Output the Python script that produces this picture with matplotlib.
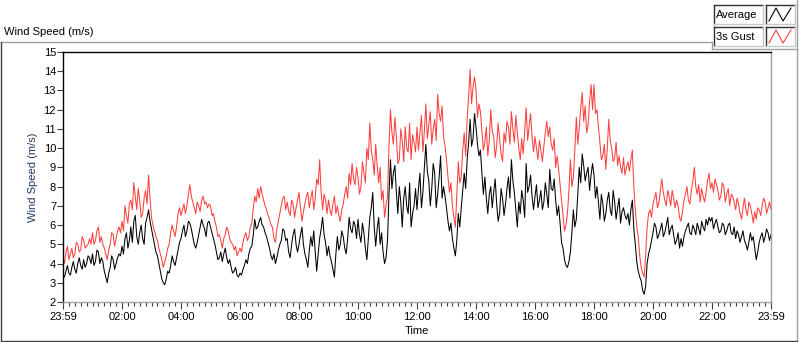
import matplotlib.pyplot as plt
from matplotlib.lines import Line2D
from matplotlib.patches import Rectangle
import numpy as np

plt.rcParams['font.family'] = ['Liberation Sans', 'DejaVu Sans']
plt.rcParams['font.size'] = 8

# Wind speed readings every 3 minutes, from 23:59 to 23:59 (m/s), one row per hour
average = [
    3.4, 3.3, 3.6, 3.9, 3.5, 3.4, 3.8, 4.1, 3.7, 3.5, 4.0, 4.3, 3.9, 3.7, 4.2, 3.8, 4.0, 4.4, 4.3, 4.0,
    4.5, 3.9, 4.1, 4.7, 4.6, 4.0, 4.3, 4.1, 3.6, 3.3, 3.0, 3.5, 3.8, 4.4, 4.2, 3.7, 4.0, 4.3, 4.5, 4.4,
    4.9, 4.5, 5.3, 5.6, 4.8, 5.2, 5.9, 5.1, 6.2, 6.5, 5.4, 5.0, 5.6, 6.0, 5.3, 5.0, 6.1, 6.4, 6.8, 6.2,
    5.8, 5.4, 5.0, 4.6, 4.4, 4.0, 3.6, 3.2, 3.0, 2.9, 3.2, 3.6, 3.5, 3.9, 4.4, 4.1, 3.9, 4.3, 4.7, 5.1,
    5.3, 5.7, 6.0, 5.4, 5.7, 6.2, 6.1, 5.8, 5.4, 5.0, 4.8, 5.1, 5.5, 5.9, 6.3, 6.0, 5.8, 5.4, 6.1, 6.2,
    5.9, 5.6, 5.3, 5.0, 4.6, 4.2, 4.3, 4.6, 4.1, 4.5, 4.8, 4.3, 4.0, 4.2, 3.8, 3.5, 3.6, 3.8, 3.4, 3.3,
    3.5, 3.4, 3.7, 3.9, 4.2, 4.0, 4.5, 4.8, 4.9, 5.5, 6.3, 5.8, 5.9, 6.2, 6.4, 6.0, 5.9, 5.6, 5.4, 5.1,
    4.8, 4.4, 4.2, 4.5, 4.0, 4.3, 4.7, 5.0, 5.2, 5.8, 5.7, 5.2, 5.3, 4.6, 4.3, 5.0, 5.5, 5.8, 5.0, 4.6,
    5.0, 5.5, 5.9, 5.0, 4.5, 4.2, 3.8, 4.7, 5.4, 4.9, 5.7, 4.6, 3.6, 4.5, 5.3, 5.8, 6.4, 5.5, 5.1, 4.4,
    4.9, 4.4, 4.1, 3.7, 3.3, 4.5, 5.4, 4.7, 5.0, 5.7, 5.4, 4.8, 4.5, 5.3, 6.4, 5.8, 5.6, 6.2, 6.0, 5.3,
    6.3, 5.5, 5.1, 6.1, 5.6, 4.8, 4.2, 5.3, 6.4, 6.9, 7.7, 5.9, 4.9, 5.8, 6.4, 5.0, 5.6, 4.6, 4.0, 4.3,
    5.2, 7.6, 9.4, 7.9, 8.7, 9.1, 7.7, 6.6, 8.0, 7.2, 5.9, 7.4, 8.0, 7.0, 6.6, 8.2, 5.9, 6.6, 7.0, 7.9,
    6.8, 7.9, 8.7, 6.9, 7.7, 9.0, 10.2, 8.8, 8.3, 7.0, 7.9, 9.2, 8.7, 6.9, 7.6, 8.5, 9.6, 7.4, 8.0, 7.5,
    6.9, 6.2, 5.7, 6.1, 5.3, 4.8, 4.4, 5.2, 6.6, 5.9, 6.9, 7.8, 8.7, 7.9, 9.4, 10.3, 11.5, 10.1, 10.5, 11.8,
    11.1, 10.2, 9.6, 9.9, 8.7, 7.6, 8.5, 7.4, 6.6, 7.6, 8.0, 6.9, 7.7, 8.4, 7.1, 6.2, 6.6, 7.9, 7.4, 6.5,
    7.1, 7.9, 8.5, 7.4, 9.4, 8.3, 7.7, 6.8, 5.9, 7.2, 6.6, 7.8, 7.3, 6.4, 9.2, 7.7, 8.0, 8.6, 7.5, 6.8,
    7.5, 8.1, 6.9, 7.3, 7.8, 6.8, 7.2, 8.2, 7.6, 6.9, 8.9, 7.9, 7.8, 8.4, 7.3, 6.5, 7.0, 6.1, 5.1, 4.8,
    4.2, 3.9, 3.8, 4.1, 4.6, 5.6, 6.8, 5.9, 6.3, 7.6, 9.0, 8.2, 9.7, 9.1, 8.3, 8.7, 9.0, 7.8, 8.6, 9.2,
    8.6, 7.4, 8.0, 7.2, 6.3, 7.6, 7.1, 6.2, 6.6, 7.3, 7.7, 6.8, 6.5, 7.8, 7.2, 6.3, 6.9, 7.4, 6.1, 6.7,
    6.9, 6.5, 6.3, 6.6, 6.0, 6.8, 7.3, 5.8, 5.0, 4.1, 3.6, 3.3, 3.1, 2.6, 2.4, 2.8, 4.0, 4.5, 4.8, 5.2,
    5.6, 6.1, 5.9, 5.3, 5.5, 5.8, 6.1, 5.4, 5.6, 6.0, 6.4, 5.5, 5.8, 6.0, 5.5, 5.0, 5.2, 5.6, 4.8, 5.3,
    4.9, 5.4, 5.7, 5.9, 6.1, 5.6, 5.5, 6.0, 5.8, 5.5, 6.1, 5.8, 5.5, 6.2, 5.9, 5.7, 6.3, 6.0, 6.4, 6.2,
    6.4, 5.8, 6.1, 6.3, 5.9, 5.6, 5.7, 6.1, 6.0, 5.5, 5.7, 6.0, 6.1, 5.6, 5.5, 5.9, 5.3, 5.7, 5.5, 5.1,
    5.4, 5.7, 5.2, 5.0, 4.7, 5.1, 5.6, 5.2, 5.4, 4.8, 4.2, 4.6, 5.1, 5.4, 5.6, 5.1, 5.4, 5.8, 5.6, 5.2,
    5.5,
]
gust = [
    4.3, 4.0, 4.6, 4.9, 4.2, 4.5, 4.8, 4.3, 4.5, 5.1, 5.0, 4.6, 4.7, 5.4, 5.2, 4.8, 4.9, 5.0, 5.3, 5.0,
    5.6, 5.0, 5.2, 5.7, 5.9, 5.1, 5.4, 5.0, 4.8, 4.5, 4.2, 4.7, 5.0, 5.6, 5.5, 4.9, 5.3, 5.7, 5.9, 5.6,
    6.2, 5.7, 7.0, 6.5, 6.1, 7.1, 7.3, 6.8, 8.2, 7.5, 6.8, 7.9, 7.3, 6.4, 6.6, 7.4, 7.8, 7.1, 8.6, 7.4,
    6.4, 6.0, 5.7, 5.4, 5.2, 4.8, 4.5, 4.2, 3.8, 4.1, 4.4, 4.8, 5.0, 5.6, 6.0, 5.7, 5.4, 5.9, 6.6, 6.9,
    6.5, 6.8, 7.1, 6.6, 7.0, 7.6, 8.1, 7.5, 7.2, 6.9, 6.6, 7.2, 7.0, 6.7, 7.3, 7.5, 7.1, 7.2, 6.9, 7.1,
    7.0, 6.5, 6.6, 6.2, 5.9, 5.4, 5.5, 5.2, 4.8, 5.3, 5.5, 5.9, 5.7, 5.3, 5.1, 5.0, 4.7, 4.9, 4.4, 4.6,
    4.8, 4.6, 5.1, 5.4, 5.6, 5.2, 5.4, 5.9, 6.1, 6.9, 7.5, 7.2, 7.9, 7.4, 8.0, 7.6, 7.3, 7.0, 6.8, 6.5,
    6.3, 6.0, 5.9, 5.3, 5.1, 5.8, 6.2, 6.6, 7.0, 7.4, 7.5, 6.8, 7.2, 6.7, 6.5, 7.3, 7.1, 6.4, 6.9, 7.3,
    7.7, 6.9, 6.2, 6.7, 7.1, 7.5, 7.7, 6.9, 7.4, 7.8, 6.8, 7.4, 8.4, 8.1, 9.4, 7.7, 6.8, 7.6, 7.3, 6.6,
    7.3, 6.8, 6.5, 7.1, 7.5, 6.6, 7.0, 6.5, 6.2, 6.8, 7.1, 7.6, 8.0, 7.4, 8.7, 8.1, 9.2, 8.4, 8.1, 9.0,
    8.5, 7.6, 8.0, 9.3, 8.7, 8.2, 10.0, 9.4, 11.3, 9.9, 9.4, 8.6, 10.2, 9.1, 8.2, 9.0, 7.3, 7.8, 6.4, 7.0,
    7.5, 10.1, 12.0, 10.8, 10.2, 11.6, 10.6, 9.2, 9.4, 11.0, 10.4, 9.3, 11.1, 10.0, 9.8, 11.3, 9.4, 10.7, 10.3, 9.8,
    11.1, 9.9, 10.8, 11.7, 9.8, 10.9, 12.3, 10.5, 11.2, 11.9, 10.2, 11.0, 11.5, 10.4, 12.8, 11.8, 11.4, 12.2, 10.6, 10.1,
    9.4, 8.5, 7.7, 8.2, 7.0, 6.4, 5.9, 7.6, 9.3, 8.2, 8.5, 9.9, 10.8, 9.6, 11.5, 12.7, 14.1, 12.3, 13.2, 13.7,
    13.0, 11.6, 12.3, 11.9, 10.9, 9.9, 10.3, 11.1, 9.6, 10.4, 12.0, 10.9, 10.6, 9.5, 10.1, 11.3, 10.5, 9.7, 9.3, 10.8,
    10.3, 11.4, 11.1, 10.2, 11.9, 11.0, 10.3, 11.7, 10.8, 10.0, 9.4, 10.5, 9.7, 10.9, 12.1, 10.4, 11.1, 11.8, 10.6, 9.8,
    10.6, 10.0, 9.4, 10.4, 9.9, 9.3, 10.1, 10.8, 11.4, 10.6, 11.1, 10.2, 9.9, 10.5, 9.0, 9.6, 8.9, 8.1, 7.3, 6.5,
    5.7, 6.0, 6.6, 7.8, 9.4, 8.0, 8.5, 9.9, 11.6, 10.2, 11.0, 12.1, 12.9, 11.4, 12.2, 10.8, 11.2, 12.4, 13.3, 12.0,
    13.3, 11.8, 12.0, 11.1, 10.3, 9.4, 9.6, 10.2, 8.9, 10.0, 11.5, 10.4, 10.0, 9.3, 9.5, 10.3, 9.1, 9.6, 9.0, 8.7,
    9.5, 8.6, 9.0, 9.3, 8.8, 9.4, 9.9, 8.0, 6.8, 5.9, 5.4, 4.4, 3.8, 3.5, 3.3, 4.4, 5.9, 6.6, 6.8, 6.4,
    7.1, 7.4, 7.7, 6.9, 7.2, 7.8, 8.4, 7.7, 7.3, 7.0, 7.8, 7.5, 7.0, 7.8, 7.4, 6.9, 7.3, 7.0, 6.4, 6.2,
    6.7, 7.3, 7.6, 8.0, 7.3, 7.1, 7.8, 8.3, 9.0, 8.0, 7.6, 8.1, 7.2, 7.9, 7.5, 7.2, 7.7, 8.3, 8.7, 7.9,
    8.2, 7.7, 8.4, 8.1, 7.8, 7.3, 7.5, 8.2, 8.0, 7.2, 7.6, 7.9, 7.0, 7.6, 7.5, 7.2, 6.8, 7.4, 7.1, 6.6,
    6.3, 6.9, 7.4, 6.8, 6.5, 7.2, 7.0, 6.6, 6.1, 6.7, 6.3, 6.9, 6.8, 6.5, 7.0, 7.4, 7.2, 6.6, 6.9, 7.2,
    6.8,
]
minutes = np.arange(len(average)) * 3

tick_minutes = np.arange(0, 1441, 120)
tick_labels = ['23:59', '02:00', '04:00', '06:00', '08:00', '10:00', '12:00',
               '14:00', '16:00', '18:00', '20:00', '22:00', '23:59']

W, H = 800, 342
fig = plt.figure(figsize=(W / 100, H / 100), dpi=100)


def fx(px):
    return px / W


def fy(py):
    return 1 - py / H


def fline(xs, ys, color, lw=1.0):
    fig.add_artist(Line2D([fx(x) for x in xs], [fy(y) for y in ys],
                          color=color, lw=lw, transform=fig.transFigure))


# outer panel frame
fline([0.5, 712], [42, 42], '#a0a0a0')
fline([712, 712], [42, 49], '#a0a0a0')
fline([712, 797], [49, 49], '#a0a0a0')
fline([797, 797], [0, 341], '#a0a0a0')
fline([0.5, 0.5], [42, 341], '#404040')
fline([0.5, 797], [341, 341], '#404040')

fig.text(fx(4), fy(32), 'Wind Speed (m/s)', fontsize=8, va='center', ha='left')

# legend boxes
legend_items = [('Average', 'black', 5), ('3s Gust', '#ff4040', 27)]
for name, col, top in legend_items:
    for x0, x1 in [(714, 763), (766, 795)]:
        fig.add_artist(Rectangle((fx(x0), fy(top + 19)), fx(x1) - fx(x0), fy(top) - fy(top + 19),
                                 transform=fig.transFigure, facecolor='white',
                                 edgecolor='none'))
        fline([x0, x1], [top, top], '#303030')
        fline([x0, x0], [top, top + 19], '#303030')
        fline([x0, x1], [top + 19, top + 19], '#c8c8c8')
        fline([x1, x1], [top, top + 19], '#c8c8c8')
    fig.text(fx(716), fy(top + 10), name, fontsize=8, va='center', ha='left')
    fline([769, 776, 783, 791], [top + 16, top + 3, top + 16, top + 3], col, lw=0.8)

ax = fig.add_axes([fx(63), fy(302), fx(771) - fx(63), fy(52) - fy(302)])
ax.plot(minutes, gust, color='#ff4040', lw=0.75)
ax.plot(minutes, average, color='black', lw=0.75)

ax.set_xlim(0, 1440)
ax.set_ylim(2, 15)
ax.set_yticks(range(2, 16))
ax.set_xticks(tick_minutes)
ax.set_xticklabels(tick_labels)
ax.set_xticks(np.arange(0, 1441, 12), minor=True)
ax.tick_params(axis='y', direction='out', length=4, width=0.8, color='#404040', pad=1)
ax.tick_params(axis='x', which='major', direction='out', length=5, width=0.8,
               color='#404040', pad=2)
ax.tick_params(axis='x', which='minor', direction='out', length=3, width=0.8,
               color='#404040')

ax.spines['top'].set_color('black')
ax.spines['left'].set_color('black')
ax.spines['bottom'].set_color('#a0a0a0')
ax.spines['right'].set_color('#a0a0a0')
for s in ax.spines.values():
    s.set_linewidth(1.0)

ax.set_xlabel('Time', fontsize=8, labelpad=3)
ax.set_ylabel('Wind Speed (m/s)', fontsize=8, color='#1f3864', labelpad=4)

fig.savefig('out.png', dpi=100)
